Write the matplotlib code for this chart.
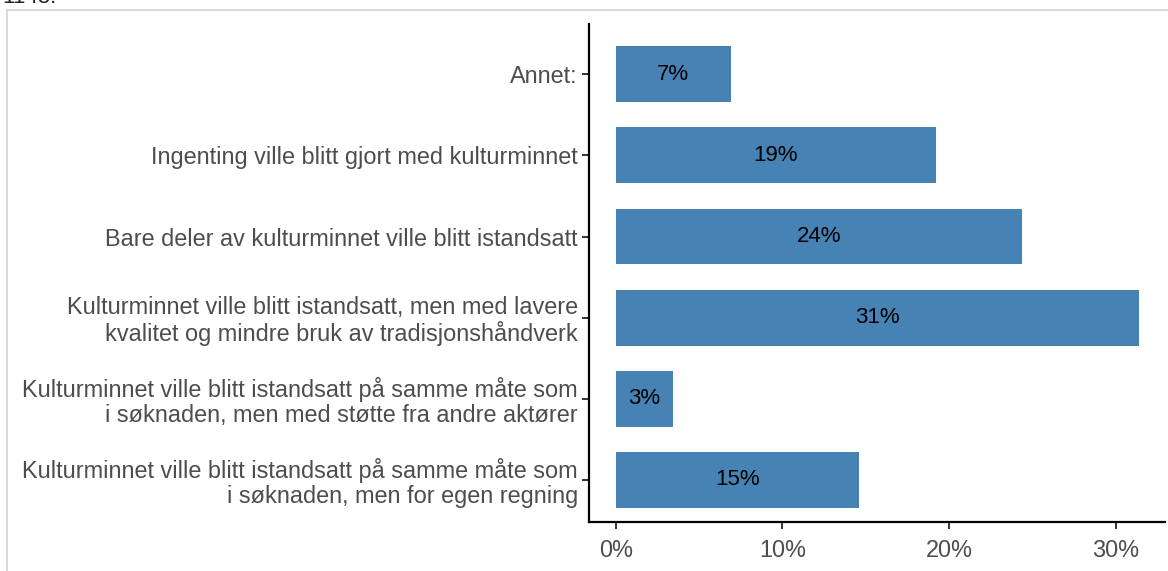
import matplotlib.pyplot as plt
from matplotlib.patches import Rectangle

plt.rcParams['font.family'] = ['Liberation Sans', 'DejaVu Sans']

kategorier = [
    "Kulturminnet ville blitt istandsatt på samme måte som\ni søknaden, men for egen regning",
    "Kulturminnet ville blitt istandsatt på samme måte som\ni søknaden, men med støtte fra andre aktører",
    "Kulturminnet ville blitt istandsatt, men med lavere\nkvalitet og mindre bruk av tradisjonshåndverk",
    "Bare deler av kulturminnet ville blitt istandsatt",
    "Ingenting ville blitt gjort med kulturminnet",
    "Annet:",
]
andel = [14.6, 3.45, 31.4, 24.4, 19.2, 6.9]
etiketter = ["15%", "3%", "31%", "24%", "19%", "7%"]
xticks = [0, 10, 20, 30]

W, H = 1168, 571
fig = plt.figure(figsize=(W / 100, H / 100), dpi=100)
ax = fig.add_axes([589 / W, (H - 522) / H, (1165 - 589) / W, (522 - 24) / H])

pos = list(range(1, len(kategorier) + 1))
ax.barh(pos, andel, height=0.69, color="#4682B4")
for p, v, t in zip(pos, andel, etiketter):
    ax.text(v / 2, p, t, ha="center", va="center", fontsize=16, color="black")

ax.set_yticks(pos)
ax.set_yticklabels(kategorier, fontsize=16.9, color="#4d4d4d", linespacing=1.1)
ax.set_xticks(xticks)
ax.set_xticklabels([f"{x}%" for x in xticks], fontsize=16.9, color="#4d4d4d")
ax.set_xlim(-1.6, 32.95)
ax.set_ylim(0.48, 6.62)

for s in ["top", "right"]:
    ax.spines[s].set_visible(False)
for s in ["left", "bottom"]:
    ax.spines[s].set_linewidth(1.6)
    ax.spines[s].set_color("black")
ax.tick_params(axis="both", length=5, width=1.4, color="#333333")
ax.tick_params(axis="y", pad=3)
ax.tick_params(axis="x", pad=7)

# ramme og avkuttet tekst øverst
fig.patches.append(Rectangle((7 / W, -0.1), 1.2, 1 - 10 / H + 0.1,
                             transform=fig.transFigure, fill=False,
                             edgecolor="#d9d9d9", linewidth=1.5))
fig.text(2 / W, 1 - 3 / H, "1148:", fontsize=16, color="#222222", va="baseline")

fig.savefig("out.png", dpi=100)
